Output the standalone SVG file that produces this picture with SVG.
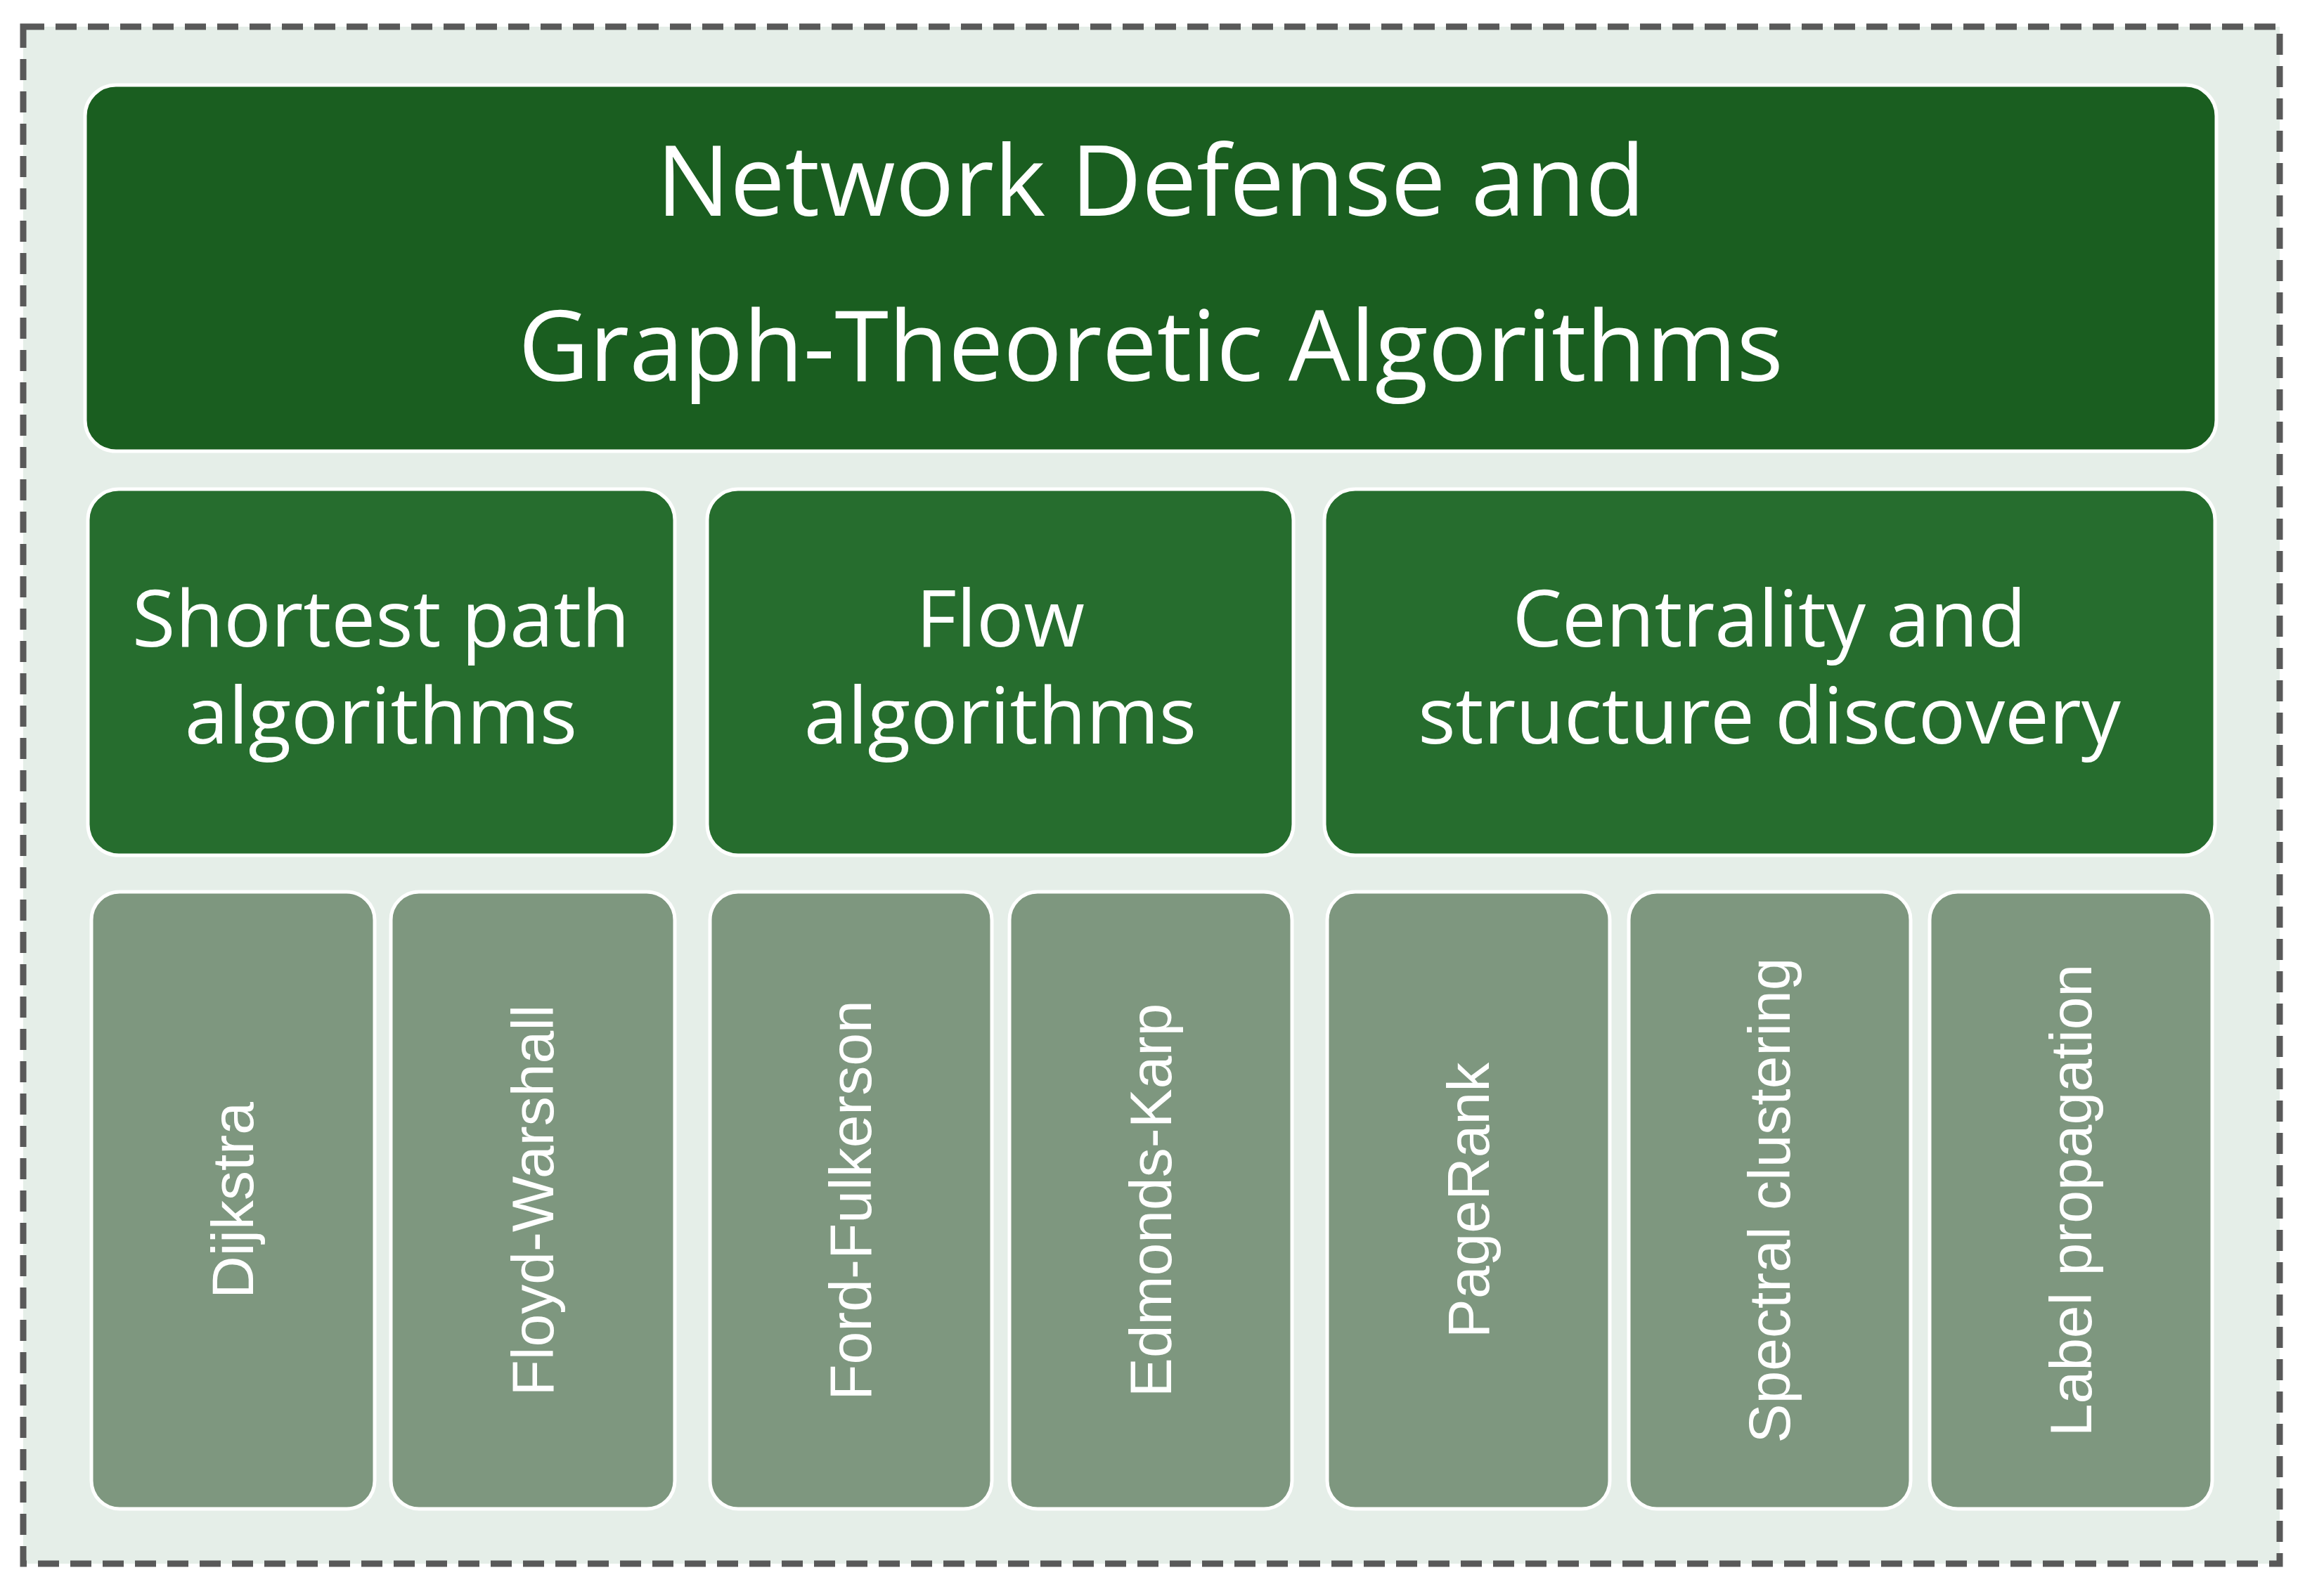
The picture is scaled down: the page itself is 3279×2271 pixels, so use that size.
<svg xmlns="http://www.w3.org/2000/svg" width="3279" height="2271" viewBox="0 0 3279 2271">
<style>
.t{fill:#1A5E20;stroke:#fff;stroke-width:5}
.m{fill:#266D2E;stroke:#fff;stroke-width:5}
.l{fill:#7E977F;stroke:#fff;stroke-width:5}
.ht{font-family:"Open Sans","Noto Sans",sans-serif;fill:#fff;text-anchor:middle}
.vt{font-family:"Liberation Sans",Arial,sans-serif;fill:#fff;text-anchor:middle;dominant-baseline:central;font-size:84px}
</style>
<rect width="3279" height="2271" fill="#fff"/>
<rect x="33" y="38" width="3210" height="2187" fill="#E5EEE8" stroke="#595959" stroke-width="9" stroke-dasharray="30,16"/>
<g id="title"><rect class="t" x="121" y="121" width="3032" height="521" rx="44"/>
<text class="ht" x="1637" y="307" font-size="139">Network Defense and</text>
<text class="ht" x="1637" y="542" font-size="139">Graph-Theoretic Algorithms</text></g>
<g id="shortest"><rect class="m" x="125" y="696" width="835" height="521" rx="44"/>
<text class="ht" x="542" y="920" font-size="112">Shortest path</text>
<text class="ht" x="542" y="1058" font-size="112">algorithms</text></g>
<g id="flow"><rect class="m" x="1006" y="696" width="834" height="521" rx="44"/>
<text class="ht" x="1423" y="920" font-size="112">Flow</text>
<text class="ht" x="1423" y="1058" font-size="112">algorithms</text></g>
<g id="centrality"><rect class="m" x="1884" y="696" width="1267" height="521" rx="44"/>
<text class="ht" x="2517" y="920" font-size="112">Centrality and</text>
<text class="ht" x="2517" y="1058" font-size="112">structure discovery</text></g>
<g id="dijkstra"><rect class="l" x="130" y="1269" width="403" height="878" rx="40"/><text class="vt" transform="translate(331,1708) rotate(-90)">Dijkstra</text></g>
<g id="floyd"><rect class="l" x="556" y="1269" width="404" height="878" rx="40"/><text class="vt" transform="translate(758,1708) rotate(-90)">Floyd-Warshall</text></g>
<g id="ford"><rect class="l" x="1010" y="1269" width="401" height="878" rx="40"/><text class="vt" transform="translate(1210,1708) rotate(-90)">Ford-Fulkerson</text></g>
<g id="edmonds"><rect class="l" x="1436" y="1269" width="402" height="878" rx="40"/><text class="vt" transform="translate(1637,1708) rotate(-90)">Edmonds-Karp</text></g>
<g id="pagerank"><rect class="l" x="1888" y="1269" width="402" height="878" rx="40"/><text class="vt" transform="translate(2089,1708) rotate(-90)">PageRank</text></g>
<g id="spectral"><rect class="l" x="2317" y="1269" width="401" height="878" rx="40"/><text class="vt" transform="translate(2517,1708) rotate(-90)">Spectral clustering</text></g>
<g id="label"><rect class="l" x="2745" y="1269" width="402" height="878" rx="40"/><text class="vt" transform="translate(2946,1708) rotate(-90)">Label propagation</text></g>
<g id="connectors"/>
</svg>
